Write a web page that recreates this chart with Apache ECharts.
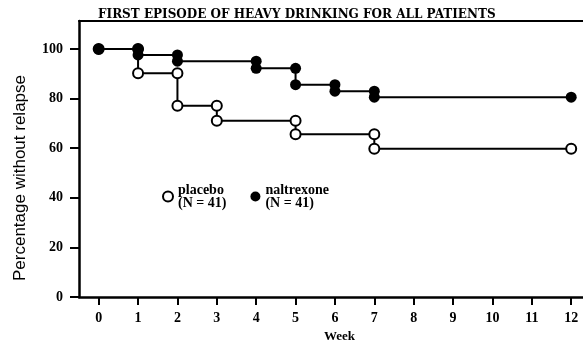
<!DOCTYPE html>
<html><head><meta charset="utf-8">
<script src="https://cdn.jsdelivr.net/npm/echarts@6/dist/echarts.min.js"></script>
<style>html,body{margin:0;padding:0;background:#fff}#c{width:583px;height:345px}</style>
</head><body><div id="c"></div>
<script>
// ---- data ----
const titleText = 'FIRST EPISODE OF HEAVY DRINKING FOR ALL PATIENTS';
const weekTicks = [0,1,2,3,4,5,6,7,8,9,10,11,12];
const percentTicks = [0,20,40,60,80,100];
const placeboWeeks  = [0, 1,    2,    3,    5,    7,    12];
const placeboValues = [100, 90.2, 77.1, 71.1, 65.6, 59.8, 59.8];
const naltrexoneWeeks  = [0, 1,    2,    4,    5,    6,    7,    12];
const naltrexoneValues = [100, 97.6, 95.1, 92.2, 85.6, 83.0, 80.6, 80.6];
const groupSize = 41;

// Kaplan–Meier style steps: marker at top and bottom of every drop
function steps(weeks, values){
  const pts = [[weeks[0], values[0]]];
  for (let i = 1; i < weeks.length; i++){
    if (values[i] !== values[i-1]) pts.push([weeks[i], values[i-1]]);
    pts.push([weeks[i], values[i]]);
  }
  return pts;
}

const serif = 'Liberation Serif';
const chart = echarts.init(document.getElementById('c'), null, {renderer:'canvas'});
chart.setOption({
  animation: false,
  backgroundColor: '#fff',
  title: {
    text: titleText, left: 93, top: 4,
    textStyle: {fontFamily: 'DejaVu Serif', fontWeight: 'bold', fontSize: 12, color: '#000'}
  },
  legend: {
    left: 157, top: 172, icon: 'circle', itemWidth: 10, itemHeight: 10, itemGap: 24,
    formatter: name => name + '\n(N = ' + groupSize + ')',
    textStyle: {fontFamily: serif, fontWeight: 'bold', fontSize: 14, lineHeight: 13, color: '#000', padding: [13,0,0,0]},
    data: [
      {name: 'placebo', itemStyle: {color: '#fff', borderColor: '#000', borderWidth: 2}},
      {name: 'naltrexone', itemStyle: {color: '#000', borderColor: '#000', borderWidth: 0}}
    ]
  },
  grid: {left: 79, right: 0, top: 21, bottom: 48, containLabel: false, outerBoundsMode: 'none'},
  xAxis: [{
    type: 'value', min: -0.5, max: 12.3, position: 'bottom',
    axisLine: {show: true, onZero: false, lineStyle: {color: '#000', width: 2.5}},
    axisTick: {show: true, customValues: weekTicks, length: 8, lineStyle: {color: '#000', width: 2}},
    axisLabel: {customValues: weekTicks, margin: 14, color: '#000', fontFamily: serif, fontWeight: 'bold', fontSize: 14},
    splitLine: {show: false},
    name: 'Week', nameLocation: 'middle', nameGap: 31,
    nameTextStyle: {fontFamily: serif, fontWeight: 'bold', fontSize: 13, color: '#000', padding: [0,0,0,17]}
  }, {
    type: 'value', min: -0.5, max: 12.3, position: 'top',
    axisLine: {show: true, onZero: false, lineStyle: {color: '#000', width: 2}},
    axisTick: {show: false}, axisLabel: {show: false}, splitLine: {show: false}
  }],
  yAxis: {
    type: 'value', min: 0, max: 111.3,
    axisLine: {show: true, onZero: false, lineStyle: {color: '#000', width: 2.5}},
    axisTick: {show: true, customValues: percentTicks, length: 9, lineStyle: {color: '#000', width: 2}},
    axisLabel: {customValues: percentTicks, margin: 16, color: '#000', fontFamily: serif, fontWeight: 'bold', fontSize: 14},
    splitLine: {show: false},
    name: 'Percentage without relapse', nameLocation: 'middle', nameGap: 50, nameRotate: 90,
    nameTextStyle: {fontFamily: 'Liberation Sans', fontSize: 17, color: '#000', padding: [0,38,0,0]}
  },
  series: [{
    name: 'placebo', type: 'line', xAxisIndex: 0,
    data: steps(placeboWeeks, placeboValues),
    symbol: 'circle', symbolSize: 10, showAllSymbol: true,
    itemStyle: {color: '#fff', borderColor: '#000', borderWidth: 2},
    lineStyle: {color: '#000', width: 2}
  }, {
    name: 'naltrexone', type: 'line', xAxisIndex: 0,
    data: steps(naltrexoneWeeks, naltrexoneValues),
    symbol: 'circle', symbolSize: 11, showAllSymbol: true,
    itemStyle: {color: '#000', borderColor: '#000', borderWidth: 0},
    lineStyle: {color: '#000', width: 2}
  }]
});
</script></body></html>
